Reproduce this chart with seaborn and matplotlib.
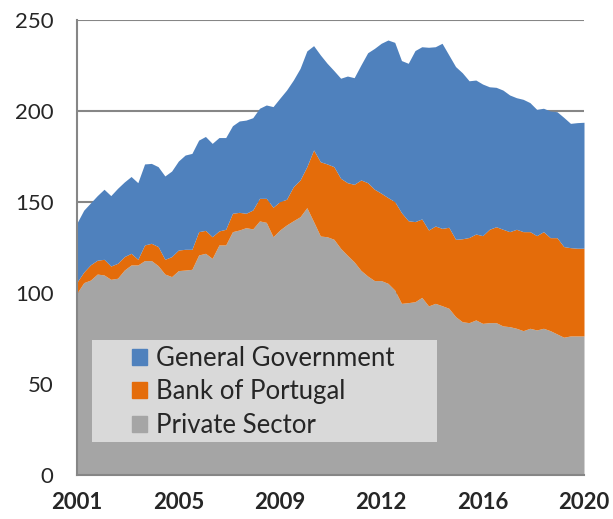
import numpy as np
import pandas as pd
import matplotlib
matplotlib.use('Agg')
import matplotlib.pyplot as plt
import matplotlib.patches as mpatches
import seaborn as sns

# quarterly values, 2001Q1 .. 2019Q4
private_sector = [100, 105.7, 107.1, 110.4, 109.9, 107.5, 108.1, 112.6, 115.4, 115.4,
                  117.8, 117.8, 115, 110.4, 109, 112.3, 112.6, 113, 120.9, 121.8,
                  119, 126.4, 126.4, 133.7, 134.6, 135.9, 135.2, 139.6, 138.8, 130.9,
                  134.6, 137.4, 139.7, 141.9, 146.9, 139.2, 131.3, 130.9, 129.5, 124.5,
                  120.7, 117.1, 112.4, 109.3, 106.8, 106.8, 105.3, 101.6, 94.3, 94.7,
                  95.2, 97.6, 92.9, 94.3, 93, 91.6, 87, 84.2, 83.7, 85.2,
                  83.3, 83.7, 83.7, 81.9, 81.5, 80.6, 79.3, 80.6, 79.7, 80.6,
                  79.3, 77.5, 75.7, 76.4, 76.4, 76.4]
bank_of_portugal = [6, 5.8, 8.4, 7.6, 8.6, 7.3, 8.2, 7.4, 6.4, 3.1,
                    8.6, 9.5, 10.5, 8.1, 11, 11.3, 11.4, 11, 12.8, 12.6,
                    11.9, 7.7, 8.6, 10.1, 9.7, 7.9, 10.4, 12.4, 13.2, 16.2,
                    15.6, 14.1, 18.7, 20.2, 22.5, 39.4, 40.8, 40, 39.9, 38.5,
                    39.9, 42.6, 49.7, 51.3, 50.2, 48, 47.1, 48.6, 49.8, 45,
                    44, 43.1, 41.7, 42.5, 42.5, 44.5, 42.5, 45.6, 46.8, 47.2,
                    48.2, 51.3, 52.7, 53.1, 52.2, 54.4, 54.4, 53.1, 51.8, 53.1,
                    51.1, 52.9, 49.8, 48.5, 48.2, 48.2]
general_government = [32.5, 34, 34, 35.5, 38.5, 38.7, 41.2, 41, 42.2, 42.1,
                      44.5, 43.9, 43.9, 45.8, 47, 48.9, 51.8, 52.7, 50.3, 51.6,
                      51.3, 51.3, 50.4, 48.1, 50.2, 51.2, 50.7, 49.5, 51.3, 55.3,
                      56.8, 60, 58.6, 61.3, 63.6, 57.3, 58.7, 55.3, 52.8, 55,
                      58.6, 58.6, 63.2, 71.4, 77.4, 82.4, 86.6, 87.5, 83.6, 86.5,
                      94, 94.6, 100.4, 98.5, 101.7, 94.7, 94.9, 91.2, 86.1, 84.6,
                      83.3, 78.3, 76.6, 76.5, 75.1, 72.3, 72.7, 70.9, 69.4, 67.8,
                      69.6, 69.2, 71, 68.3, 69, 69.2]

year_labels = ['2001', '2005', '2009', '2012', '2016', '2020']
series_names = ['Private Sector', 'Bank of Portugal', 'General Government']
colors = {'Private Sector': '#A5A5A5', 'Bank of Portugal': '#E46C0A',
          'General Government': '#4F81BD'}

df = pd.DataFrame({'Private Sector': private_sector,
                   'Bank of Portugal': bank_of_portugal,
                   'General Government': general_government})

sns.set_style('white')
plt.rcParams['font.family'] = ['Lato', 'DejaVu Sans']

fig = plt.figure(figsize=(6.13, 5.19), dpi=100)
ax = fig.add_axes([0.1256, 0.0848, 0.8271, 0.8767])

ax.stackplot(df.index, [df[c] for c in series_names],
             colors=[colors[c] for c in series_names], linewidth=0, zorder=2)

ax.set_xlim(0, len(df) - 1)
ax.set_ylim(0, 250)
ax.set_yticks(np.arange(0, 251, 50))
ax.set_xticks(np.linspace(0, len(df) - 1, len(year_labels)))
ax.set_xticklabels(year_labels, fontsize=16, fontweight='bold')
ax.tick_params(axis='y', labelsize=16, length=0, pad=17)
ax.tick_params(axis='x', length=0, pad=12)
ax.yaxis.grid(True, color='#868686', linewidth=1.5, zorder=0)
ax.set_axisbelow(True)
for side in ['top', 'right']:
    ax.spines[side].set_visible(False)
for side in ['left', 'bottom']:
    ax.spines[side].set_color('#868686')
    ax.spines[side].set_linewidth(1.5)

# legend panel
ax.add_patch(mpatches.Rectangle((0.03, 0.0725), 0.68, 0.2245, transform=ax.transAxes,
                                facecolor='#D9D9D9', edgecolor='none', zorder=3))
handles = [mpatches.Patch(color=colors[c]) for c in series_names[::-1]]
ax.legend(handles, series_names[::-1], loc='upper left', bbox_to_anchor=(0.108, 0.284),
          frameon=False, fontsize=18.5, handlelength=0.6, handleheight=0.6,
          handletextpad=0.35, labelspacing=0.33, borderpad=0, borderaxespad=0)

fig.savefig('out.png', dpi=100)
